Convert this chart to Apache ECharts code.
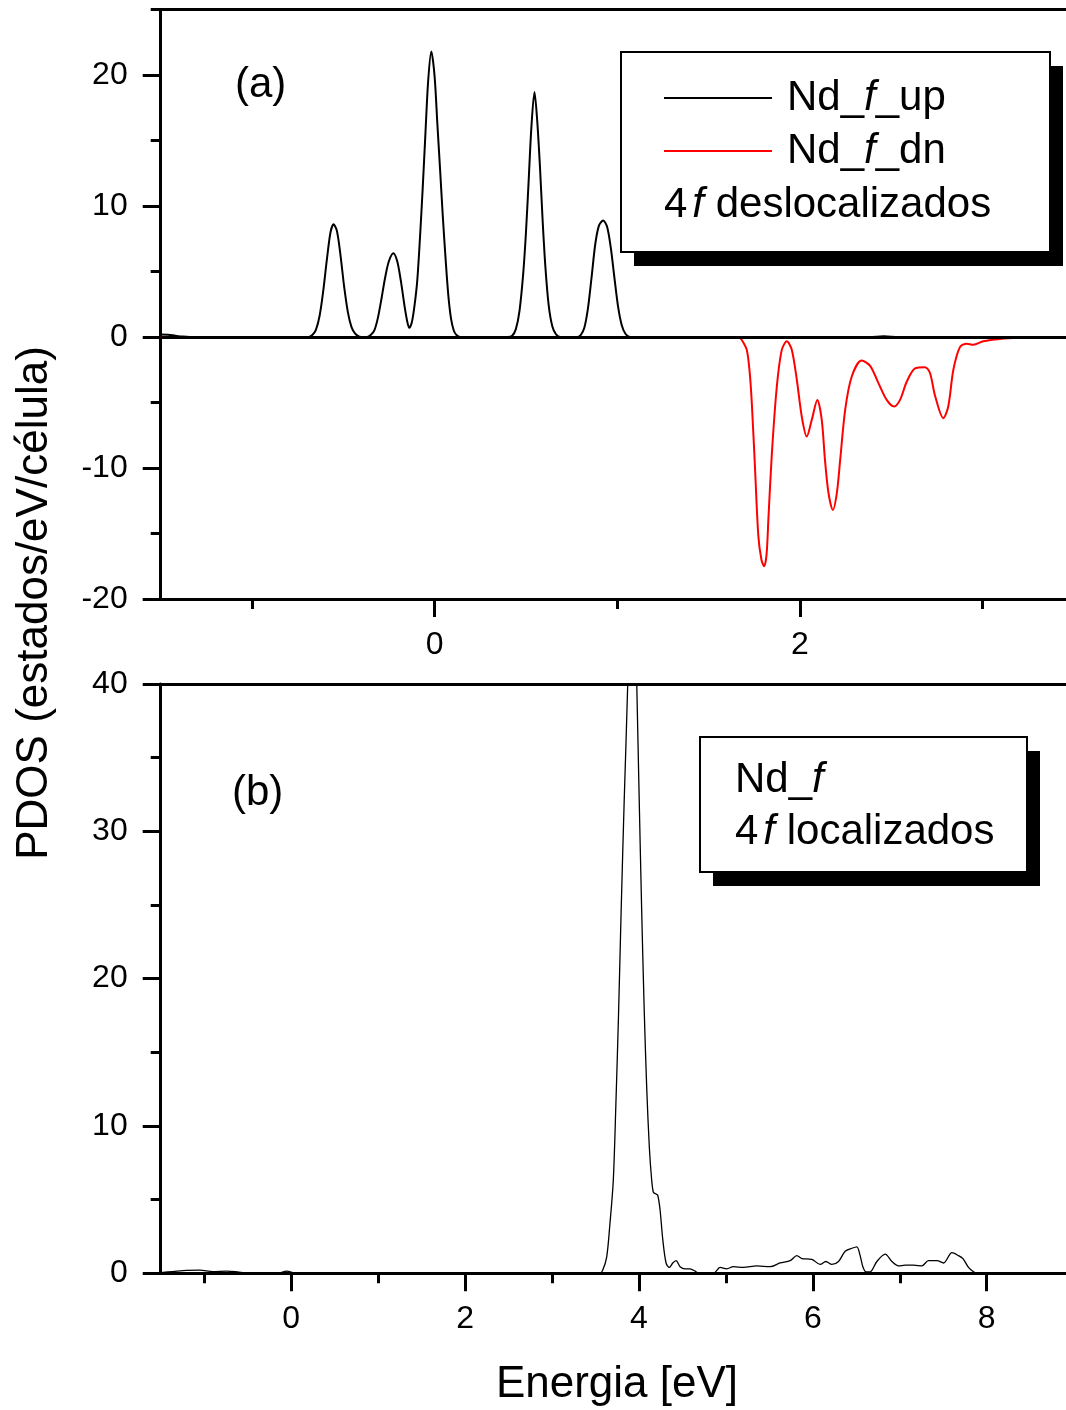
<!DOCTYPE html>
<html>
<head>
<meta charset="utf-8">
<script src="https://cdn.jsdelivr.net/npm/echarts@6/dist/echarts.min.js"></script>
<style>
  html, body { margin: 0; padding: 0; background: #fff; overflow: hidden; }
  #chart { width: 1080px; height: 1410px; }
</style>
</head>
<body>
<div id="chart"></div>
<script>
// Nd 4f partial density of states, energy [eV] vs PDOS (estados/eV/célula)

// (a) delocalized 4f, spin up
const ndFUp = [
  [-1.5, 0.2], [-1.46, 0.18], [-1.42, 0.1], [-1.38, 0.03], [-1.34, 0], [-0.69, 0],
  [-0.67, 0.15], [-0.65, 0.55], [-0.63, 1.6], [-0.61, 3.5], [-0.59, 5.9], [-0.57, 8.0],
  [-0.553, 8.6], [-0.535, 8.1], [-0.515, 6.2], [-0.495, 3.8], [-0.475, 1.9], [-0.455, 0.75],
  [-0.435, 0.25], [-0.415, 0.05], [-0.39, 0],
  [-0.37, 0], [-0.35, 0.15], [-0.33, 0.5], [-0.31, 1.5], [-0.29, 3.0], [-0.27, 4.6],
  [-0.25, 5.8], [-0.226, 6.4], [-0.205, 5.8], [-0.185, 4.3], [-0.165, 2.4], [-0.15, 1.2],
  [-0.139, 0.7], [-0.125, 1.1], [-0.11, 2.4], [-0.095, 4.3], [-0.08, 7.6], [-0.065, 11.4],
  [-0.05, 15.6], [-0.035, 19.6], [-0.018, 21.8], [0, 19.9], [0.015, 16.3], [0.03, 12.8],
  [0.045, 9.2], [0.06, 6.0], [0.075, 3.2], [0.09, 1.4], [0.105, 0.5], [0.12, 0.15], [0.14, 0],
  [0.40, 0], [0.425, 0.1], [0.445, 0.6], [0.465, 2.0], [0.485, 4.8], [0.50, 7.9], [0.515, 11.9],
  [0.53, 16.0], [0.547, 18.7], [0.562, 16.5], [0.577, 13.0], [0.592, 8.8], [0.607, 5.3],
  [0.625, 2.4], [0.645, 0.8], [0.665, 0.2], [0.69, 0],
  [0.78, 0], [0.80, 0.15], [0.82, 0.7], [0.84, 2.2], [0.86, 4.6], [0.88, 7.1], [0.90, 8.5],
  [0.923, 8.9], [0.945, 8.4], [0.965, 6.8], [0.985, 4.5], [1.005, 2.3], [1.025, 0.9],
  [1.045, 0.25], [1.07, 0],
  [2.38, 0], [2.46, 0.05], [2.54, 0], [3.5, 0]
];

// (a) delocalized 4f, spin down
const ndFDn = [
  [-1.5, 0], [1.65, 0], [1.673, -0.1], [1.69, -0.4], [1.71, -1.0], [1.725, -2.6], [1.737, -5.0],
  [1.755, -10.1], [1.773, -15.2], [1.79, -17.0], [1.805, -17.5], [1.818, -16.6], [1.828, -13.9],
  [1.847, -8.9], [1.874, -3.8], [1.901, -1.0], [1.929, -0.33], [1.956, -0.97], [1.984, -3.3],
  [2.011, -6.1], [2.038, -7.6], [2.066, -6.3], [2.096, -4.8], [2.12, -6.3], [2.138, -9.4],
  [2.157, -11.9], [2.181, -13.2], [2.203, -11.9], [2.221, -9.4], [2.249, -5.5], [2.285, -3.0],
  [2.339, -1.8], [2.385, -2.2], [2.43, -3.5], [2.476, -4.8], [2.516, -5.3], [2.549, -4.8],
  [2.586, -3.4], [2.631, -2.4], [2.686, -2.3], [2.713, -2.75], [2.741, -4.5], [2.786, -6.2],
  [2.813, -5.3], [2.841, -2.5], [2.877, -0.77], [2.914, -0.51], [2.95, -0.59], [3.005, -0.33],
  [3.096, -0.15], [3.2, -0.06], [3.315, -0.03], [3.5, 0]
];

// (b) localized 4f
const ndF = [
  [-1.5, 0.05], [-1.36, 0.12], [-1.2, 0.2], [-1.05, 0.22], [-0.9, 0.12], [-0.74, 0.15],
  [-0.6, 0.08], [-0.45, 0], [-0.15, 0], [-0.05, 0.15], [0.05, 0], [3.5, 0],
  [3.552, 0], [3.583, 0.2], [3.629, 1.1], [3.667, 3.4], [3.705, 6.3], [3.735, 11.5],
  [3.765, 17.5], [3.795, 24.5], [3.83, 32], [3.871, 40], [3.923, 54], [3.975, 40],
  [4.0, 33], [4.03, 25], [4.06, 18], [4.09, 12.5], [4.12, 8.5], [4.147, 6.3], [4.166, 5.5],
  [4.19, 5.4], [4.216, 5.3], [4.243, 4.3], [4.274, 2.3], [4.312, 0.7], [4.35, 0.4],
  [4.389, 0.7], [4.427, 0.86], [4.473, 0.45], [4.531, 0.3], [4.588, 0.3], [4.646, 0.15],
  [4.684, 0], [4.856, 0], [4.933, 0.4], [5.01, 0.3], [5.086, 0.45], [5.201, 0.4],
  [5.356, 0.5], [5.509, 0.45], [5.624, 0.7], [5.739, 0.86], [5.816, 1.2], [5.873, 1.0],
  [5.988, 0.95], [6.084, 0.6], [6.15, 0.8], [6.219, 0.6], [6.295, 0.8], [6.372, 1.5],
  [6.449, 1.7], [6.506, 1.8], [6.544, 1.2], [6.575, 0.45], [6.613, 0.1], [6.659, 0.1],
  [6.736, 0.8], [6.832, 1.3], [6.909, 0.8], [6.985, 0.5], [7.062, 0.55], [7.158, 0.55],
  [7.254, 0.5], [7.33, 0.86], [7.427, 0.86], [7.503, 0.7], [7.6, 1.4], [7.675, 1.2],
  [7.726, 1.0], [7.79, 0.4], [7.848, 0.1], [7.887, 0], [9, 0]
];

// axis ranges and tick positions
const xRangeA = [-1.5, 3.5];
const yRangeA = [-20, 25];
const xRangeB = [-1.5, 9];
const yRangeB = [0, 40];
const xMajorA = [0, 2];
const xMinorA = [-1, 1, 3];
const yMajorA = [-20, -10, 0, 10, 20];
const yMinorA = [-15, -5, 5, 15, 25];
const xMajorB = [0, 2, 4, 6, 8];
const xMinorB = [-1, 1, 3, 5, 7];
const yMajorB = [0, 10, 20, 30, 40];
const yMinorB = [5, 15, 25, 35];

const FONT = "'Liberation Sans', Arial, Helvetica, sans-serif";
const AXIS_W = 3;
const TICK_FONT = 32;

function xAxesFor(gridIndex, range, major, minor) {
  return [
    {
      type: 'value', gridIndex, min: range[0], max: range[1], position: 'bottom',
      axisLine: { show: true, onZero: false, lineStyle: { color: '#000', width: AXIS_W } },
      axisTick: { show: true, inside: false, length: 18, customValues: major,
                  lineStyle: { color: '#000', width: AXIS_W } },
      axisLabel: { show: true, customValues: major, fontSize: TICK_FONT, color: '#000',
                   fontFamily: FONT, margin: 30 },
      splitLine: { show: false }
    },
    {
      type: 'value', gridIndex, min: range[0], max: range[1], position: 'bottom',
      axisLine: { show: false, onZero: false },
      axisTick: { show: true, inside: false, length: 10, customValues: minor,
                  lineStyle: { color: '#000', width: AXIS_W } },
      axisLabel: { show: false },
      splitLine: { show: false }
    },
    {
      type: 'value', gridIndex, min: range[0], max: range[1], position: 'top',
      axisLine: { show: true, onZero: false, lineStyle: { color: '#000', width: AXIS_W } },
      axisTick: { show: false },
      axisLabel: { show: false },
      splitLine: { show: false }
    }
  ];
}

function yAxesFor(gridIndex, range, major, minor) {
  return [
    {
      type: 'value', gridIndex, min: range[0], max: range[1], position: 'left',
      axisLine: { show: true, onZero: false, lineStyle: { color: '#000', width: AXIS_W } },
      axisTick: { show: true, inside: false, length: 18, customValues: major,
                  lineStyle: { color: '#000', width: AXIS_W } },
      axisLabel: { show: true, customValues: major, fontSize: TICK_FONT, color: '#000',
                   fontFamily: FONT, margin: 33 },
      splitLine: { show: false }
    },
    {
      type: 'value', gridIndex, min: range[0], max: range[1], position: 'left',
      axisLine: { show: false, onZero: false },
      axisTick: { show: true, inside: false, length: 10, customValues: minor,
                  lineStyle: { color: '#000', width: AXIS_W } },
      axisLabel: { show: false },
      splitLine: { show: false }
    }
  ];
}

const richText = {
  n: { fontSize: 42, fontFamily: FONT, color: '#000' },
  i: { fontSize: 42, fontFamily: FONT, fontStyle: 'italic', color: '#000' },
  fi: { fontSize: 42, fontFamily: FONT, fontStyle: 'italic', color: '#000', padding: [0, 0, 0, 5] },
  t: { fontSize: 44, fontFamily: FONT, color: '#000' }
};

function boxWithShadow(x, y, w, h) {
  return [
    { type: 'rect', z: 20, shape: { x: x + 13, y: y + 14, width: w, height: h },
      style: { fill: '#000' }, silent: true },
    { type: 'rect', z: 21, shape: { x: x, y: y, width: w, height: h },
      style: { fill: '#fff', stroke: '#000', lineWidth: 2 }, silent: true }
  ];
}

function label(x, y, text, align, rotation) {
  return {
    type: 'text', z: 30, x, y, rotation: rotation || 0, silent: true,
    style: {
      text, fill: '#000', fontSize: 42, fontFamily: FONT, rich: richText,
      align: align || 'left', verticalAlign: 'middle'
    }
  };
}

const chart = echarts.init(document.getElementById('chart'), null, { renderer: 'canvas' });

chart.setOption({
  animation: false,
  backgroundColor: '#fff',
  grid: [
    { left: 160.7, top: 9.5, width: 913, height: 589.5 },
    { left: 160.7, top: 684, width: 913, height: 589.3 }
  ],
  xAxis: [
    ...xAxesFor(0, xRangeA, xMajorA, xMinorA),
    ...xAxesFor(1, xRangeB, xMajorB, xMinorB)
  ],
  yAxis: [
    ...yAxesFor(0, yRangeA, yMajorA, yMinorA),
    ...yAxesFor(1, yRangeB, yMajorB, yMinorB)
  ],
  legend: {
    data: ['Nd_f_up', 'Nd_f_dn'],
    orient: 'vertical',
    left: 664, top: 77,
    padding: 0,
    icon: 'rect',
    itemWidth: 108, itemHeight: 2, itemGap: 11,
    z: 40,
    selectedMode: false,
    textStyle: {
      fontSize: 42, lineHeight: 42, color: '#000', fontFamily: FONT,
      padding: [0, 0, 0, 10], rich: richText
    },
    formatter: function (name) {
      const parts = name.split('_');
      return '{n|' + parts[0] + '_}{i|' + parts[1] + '}{n|_' + parts[2] + '}';
    }
  },
  series: [
    {
      name: 'Nd_f_dn', type: 'line', xAxisIndex: 0, yAxisIndex: 0,
      data: ndFDn, symbol: 'none', showSymbol: false, smooth: 0.3,
      color: '#ff0000', lineStyle: { color: '#ff0000', width: 2 }
    },
    {
      name: 'Nd_f_up', type: 'line', xAxisIndex: 0, yAxisIndex: 0,
      data: ndFUp, symbol: 'none', showSymbol: false, smooth: 0.3,
      color: '#000', lineStyle: { color: '#000', width: 2 },
      markLine: {
        silent: true, symbol: 'none', animation: false,
        label: { show: false },
        lineStyle: { color: '#000', width: 3, type: 'solid' },
        data: [{ yAxis: 0 }]
      }
    },
    {
      name: 'Nd_f', type: 'line', xAxisIndex: 3, yAxisIndex: 2,
      data: ndF, symbol: 'none', showSymbol: false, smooth: 0.3, clip: true,
      color: '#000', lineStyle: { color: '#000', width: 1.3 }
    }
  ],
  graphic: [
    ...boxWithShadow(621, 52, 429, 200),
    label(664, 205, '{n|4}{fi|f}{n| deslocalizados}'),
    ...boxWithShadow(700, 737, 327, 135),
    label(735, 780, '{n|Nd_}{i|f}'),
    label(735, 832, '{n|4}{fi|f}{n| localizados}'),
    label(235, 85, '{n|(a)}'),
    label(232, 793, '{n|(b)}'),
    label(617, 1385, '{t|Energia [eV]}', 'center'),
    label(35, 603, '{t|PDOS (estados/eV/célula)}', 'center', Math.PI / 2)
  ]
});
</script>
</body>
</html>
